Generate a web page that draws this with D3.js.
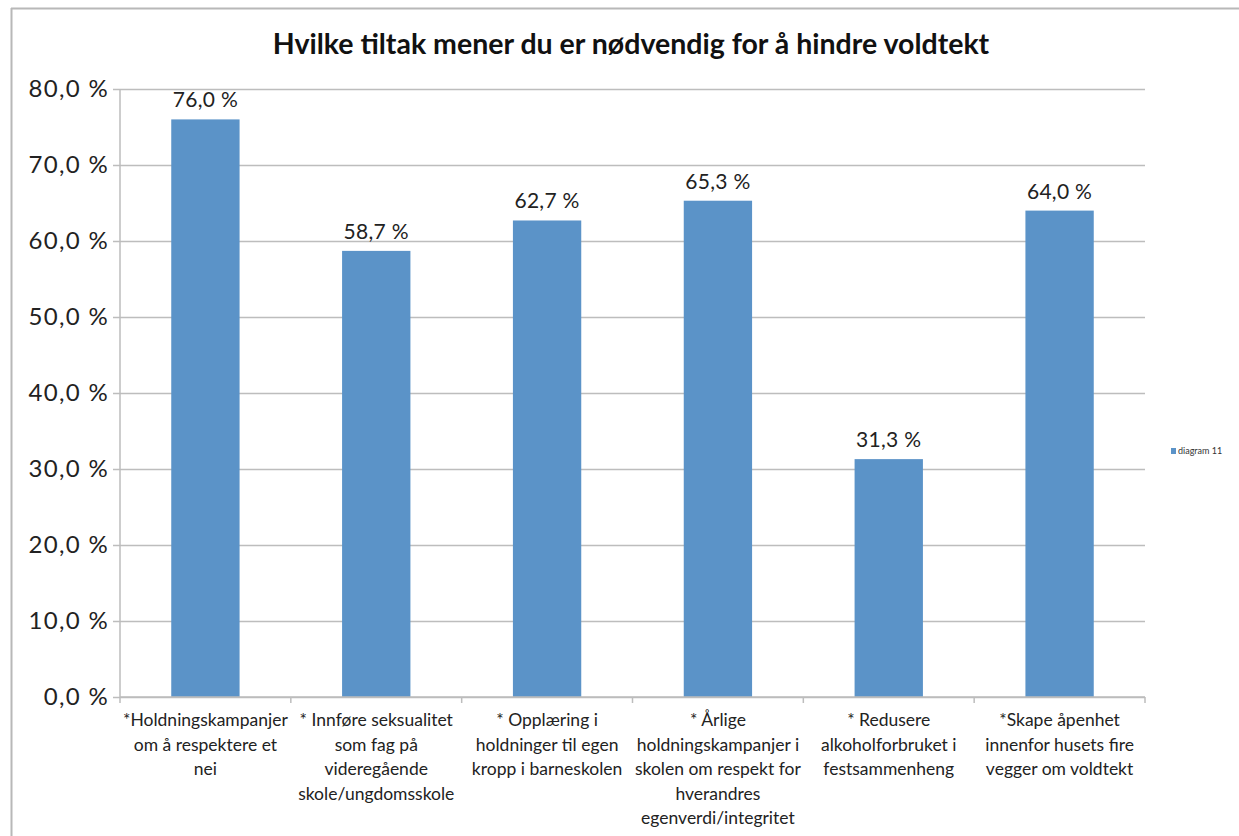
<!DOCTYPE html>
<html>
<head>
<meta charset="utf-8">
<script src="https://cdn.jsdelivr.net/npm/d3@7"></script>
<style>
  body { margin: 0; background: #fff; }
  svg { display: block; font-family: Lato, "Open Sans", sans-serif; }
</style>
</head>
<body>
<div id="chart"></div>
<script>
const title = "Hvilke tiltak mener du er nødvendig for å hindre voldtekt";
const categories = [
  ["*Holdningskampanjer", "om å respektere et", "nei"],
  ["* Innføre seksualitet", "som fag på", "videregående", "skole/ungdomsskole"],
  ["* Opplæring i", "holdninger til egen", "kropp i barneskolen"],
  ["* Årlige", "holdningskampanjer i", "skolen om respekt for", "hverandres", "egenverdi/integritet"],
  ["* Redusere", "alkoholforbruket i", "festsammenheng"],
  ["*Skape åpenhet", "innenfor husets fire", "vegger om voldtekt"]
];
const values = [76.0, 58.7, 62.7, 65.3, 31.3, 64.0];
const yTicks = [0, 10, 20, 30, 40, 50, 60, 70, 80];
const seriesName = "diagram 11";

const width = 1239;
const height = 836;
const margin = { top: 89, right: 94, bottom: 139, left: 120 };
const barColor = "#5b93c8";
const gridColor = "#bdbdbd";
const fmt = (v) => v.toFixed(1).replace(".", ",") + " %";

const svg = d3.select("#chart")
  .append("svg")
  .attr("width", width)
  .attr("height", height);

// Chart frame (top and left edges visible)
svg.append("line")
  .attr("x1", 11).attr("x2", width).attr("y1", 8.5).attr("y2", 8.5)
  .attr("stroke", "#b8b8b8").attr("stroke-width", 2);
svg.append("line")
  .attr("x1", 11.5).attr("x2", 11.5).attr("y1", 8).attr("y2", height)
  .attr("stroke", "#b8b8b8").attr("stroke-width", 2);

svg.append("text")
  .attr("x", 631)
  .attr("y", 54)
  .attr("text-anchor", "middle")
  .attr("font-size", "28.5px")
  .attr("font-weight", "bold")
  .attr("fill", "#111")
  .text(title);

const xScale = d3.scaleBand()
  .domain(d3.range(categories.length))
  .range([margin.left, width - margin.right])
  .paddingInner(0.6)
  .paddingOuter(0.3);

const yScale = d3.scaleLinear()
  .domain([0, 80])
  .range([height - margin.bottom, margin.top]);

// Gridlines + y labels
const yAxis = svg.append("g")
  .attr("transform", `translate(${margin.left}, 0)`)
  .call(d3.axisLeft(yScale)
    .tickValues(yTicks)
    .tickSize(-(width - margin.left - margin.right))
    .tickPadding(11)
    .tickFormat(fmt));
yAxis.select(".domain").remove();
yAxis.selectAll(".tick line")
  .attr("x1", -7)
  .attr("stroke", gridColor)
  .attr("stroke-width", 1.5);
yAxis.selectAll(".tick text")
  .attr("font-size", "24px")
  .attr("letter-spacing", "1.3px")
  .attr("font-family", "Lato, sans-serif")
  .attr("fill", "#222");

// Vertical axis line
svg.append("line")
  .attr("x1", margin.left).attr("x2", margin.left)
  .attr("y1", yScale(80)).attr("y2", yScale(0))
  .attr("stroke", gridColor).attr("stroke-width", 1.5);

// Bars
svg.selectAll("rect.bar")
  .data(values)
  .enter()
  .append("rect")
  .attr("class", "bar")
  .attr("x", (d, i) => xScale(i))
  .attr("y", (d) => yScale(d))
  .attr("width", xScale.bandwidth())
  .attr("height", (d) => yScale(0) - yScale(d))
  .attr("fill", barColor);

// Value labels
svg.selectAll("text.val")
  .data(values)
  .enter()
  .append("text")
  .attr("class", "val")
  .attr("x", (d, i) => xScale(i) + xScale.bandwidth() / 2)
  .attr("y", (d) => yScale(d) - 12)
  .attr("text-anchor", "middle")
  .attr("font-size", "21px")
  .attr("letter-spacing", "0.3px")
  .attr("fill", "#222")
  .text(fmt);

// X axis with category ticks at band boundaries
const x0 = margin.left;
const bottom = yScale(0);
svg.append("line")
  .attr("x1", x0).attr("x2", width - margin.right)
  .attr("y1", bottom).attr("y2", bottom)
  .attr("stroke", gridColor).attr("stroke-width", 1.5);
svg.selectAll("line.xtick")
  .data(d3.range(categories.length + 1))
  .enter()
  .append("line")
  .attr("class", "xtick")
  .attr("x1", (d) => x0 + d * (width - margin.right - x0) / categories.length)
  .attr("x2", (d) => x0 + d * (width - margin.right - x0) / categories.length)
  .attr("y1", bottom).attr("y2", bottom + 6)
  .attr("stroke", gridColor).attr("stroke-width", 1.5);

// Category labels
const catLabels = svg.selectAll("text.cat")
  .data(categories)
  .enter()
  .append("text")
  .attr("class", "cat")
  .attr("text-anchor", "middle")
  .attr("font-size", "17.5px")
  .attr("fill", "#222")
  .attr("x", (d, i) => xScale(i) + xScale.bandwidth() / 2)
  .attr("y", bottom + 29);
catLabels.selectAll("tspan")
  .data((d) => d)
  .enter()
  .append("tspan")
  .attr("x", function () { return d3.select(this.parentNode).attr("x"); })
  .attr("dy", (d, i) => (i === 0 ? 0 : 24.5))
  .text((d) => d);

// Legend
const legend = svg.append("g").attr("transform", "translate(1171, 452)");
legend.append("rect")
  .attr("x", 0).attr("y", -4)
  .attr("width", 5).attr("height", 6)
  .attr("fill", barColor);
legend.append("text")
  .attr("x", 7).attr("y", 2)
  .attr("font-size", "9px")
  .attr("fill", "#333")
  .text(seriesName);
</script>
</body>
</html>
